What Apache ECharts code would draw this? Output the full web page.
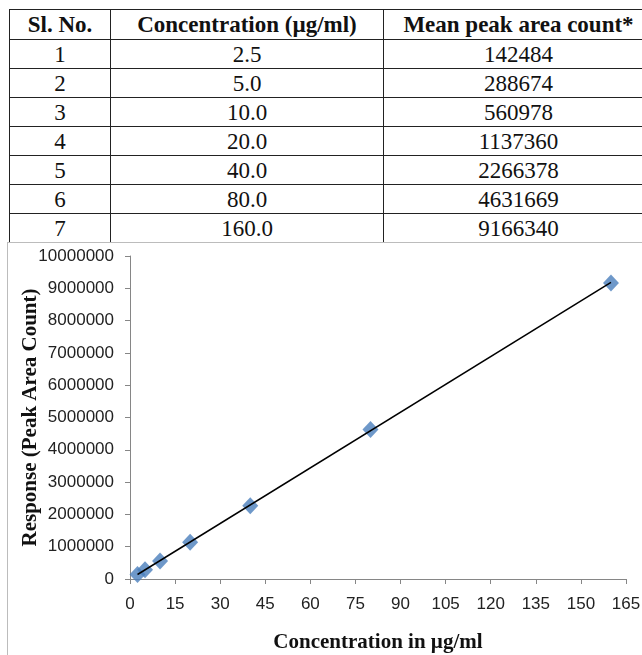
<!DOCTYPE html>
<html>
<head>
<meta charset="utf-8">
<script src="https://cdn.jsdelivr.net/npm/echarts@6/dist/echarts.min.js"></script>
<style>
    html, body { margin: 0; padding: 0; background: #fff; }
    body { width: 642px; height: 655px; position: relative; overflow: hidden; }
    #data-table {
        position: absolute; left: 9px; top: 9px; width: 644px;
        table-layout: fixed;
        border-collapse: collapse;
        font-family: "Liberation Serif", "DejaVu Serif", serif;
        font-size: 23px; color: #111;
    }
    #data-table th, #data-table td {
        border: 1.5px solid #222; padding: 0; text-align: center; line-height: 1;
        white-space: nowrap;
    }
    #data-table th { height: 29px; font-weight: bold; }
    #data-table td { height: 28px; }
    #chart-box {
        position: absolute; left: 7px; top: 242px; width: 660px; height: 440px;
        border: 1px solid #bcbcbc; box-sizing: border-box;
    }
    #calib-chart { position: absolute; left: 0; top: 0; width: 642px; height: 655px; }
</style>
</head>
<body>
<table id="data-table"></table>
<div id="chart-box"></div>
<div id="calib-chart"></div>
<script>
// 标准曲线数据
const headers = ['Sl. No.', 'Concentration (µg/ml)', 'Mean peak area count*'];
const slNo = [1, 2, 3, 4, 5, 6, 7];
const concLabels = ['2.5', '5.0', '10.0', '20.0', '40.0', '80.0', '160.0'];
const concentrations = [2.5, 5, 10, 20, 40, 80, 160];
const peakAreas = [142484, 288674, 560978, 1137360, 2266378, 4631669, 9166340];
// trendline ends
const trendX = [2.5, 160];
const trendY = [139000, 9181000];

const colWidths = [101, 273, 270];

function buildTable() {
    const table = document.getElementById('data-table');
    let html = '<colgroup>';
    colWidths.forEach(w => { html += `<col style="width:${w}px">`; });
    html += '</colgroup><tr>';
    headers.forEach(h => { html += `<th>${h}</th>`; });
    html += '</tr>';
    slNo.forEach((n, i) => {
        html += `<tr><td>${n}</td><td>${concLabels[i]}</td><td>${peakAreas[i]}</td></tr>`;
    });
    table.innerHTML = html;
}

function createCalibrationOption() {
    const axisColor = '#868686';
    const labelStyle = {
        color: '#222',
        fontFamily: '"Liberation Sans", Arial, sans-serif',
        fontSize: 17
    };
    const titleStyle = {
        color: '#111',
        fontFamily: '"Liberation Serif", serif',
        fontWeight: 'bold',
        fontSize: 21
    };
    return {
        animation: false,
        grid: {
            left: 130,
            right: 16,
            top: 256,
            bottom: 76,
            outerBoundsMode: 'none'
        },
        xAxis: {
            type: 'value',
            min: 0,
            max: 165,
            interval: 15,
            name: 'Concentration in µg/ml',
            nameLocation: 'middle',
            nameGap: 53,
            nameMoveOverlap: false,
            nameTextStyle: titleStyle,
            axisLine: { lineStyle: { color: axisColor, width: 1 } },
            axisTick: { show: true, length: 5, lineStyle: { color: axisColor } },
            axisLabel: Object.assign({ margin: 17 }, labelStyle),
            splitLine: { show: false }
        },
        yAxis: {
            type: 'value',
            min: 0,
            max: 10000000,
            interval: 1000000,
            name: 'Response (Peak Area Count)',
            nameLocation: 'middle',
            nameGap: 89,
            nameMoveOverlap: false,
            nameTextStyle: titleStyle,
            axisLine: { show: true, lineStyle: { color: axisColor, width: 1 } },
            axisTick: { show: true, length: 5, lineStyle: { color: axisColor } },
            axisLabel: Object.assign({ margin: 16, formatter: v => String(v) }, labelStyle),
            splitLine: { show: false }
        },
        series: [
            {
                name: 'Linear',
                type: 'line',
                data: trendX.map((x, i) => [x, trendY[i]]),
                symbol: 'none',
                lineStyle: { color: '#000', width: 1.5 },
                z: 3
            },
            {
                name: 'Peak area',
                type: 'scatter',
                data: concentrations.map((c, i) => [c, peakAreas[i]]),
                symbol: 'diamond',
                symbolSize: [16, 17],
                itemStyle: { color: '#4a7ebb' },
                z: 2
            }
        ]
    };
}

buildTable();
const calibChart = echarts.init(document.getElementById('calib-chart'));
calibChart.setOption(createCalibrationOption());
</script>
</body>
</html>
